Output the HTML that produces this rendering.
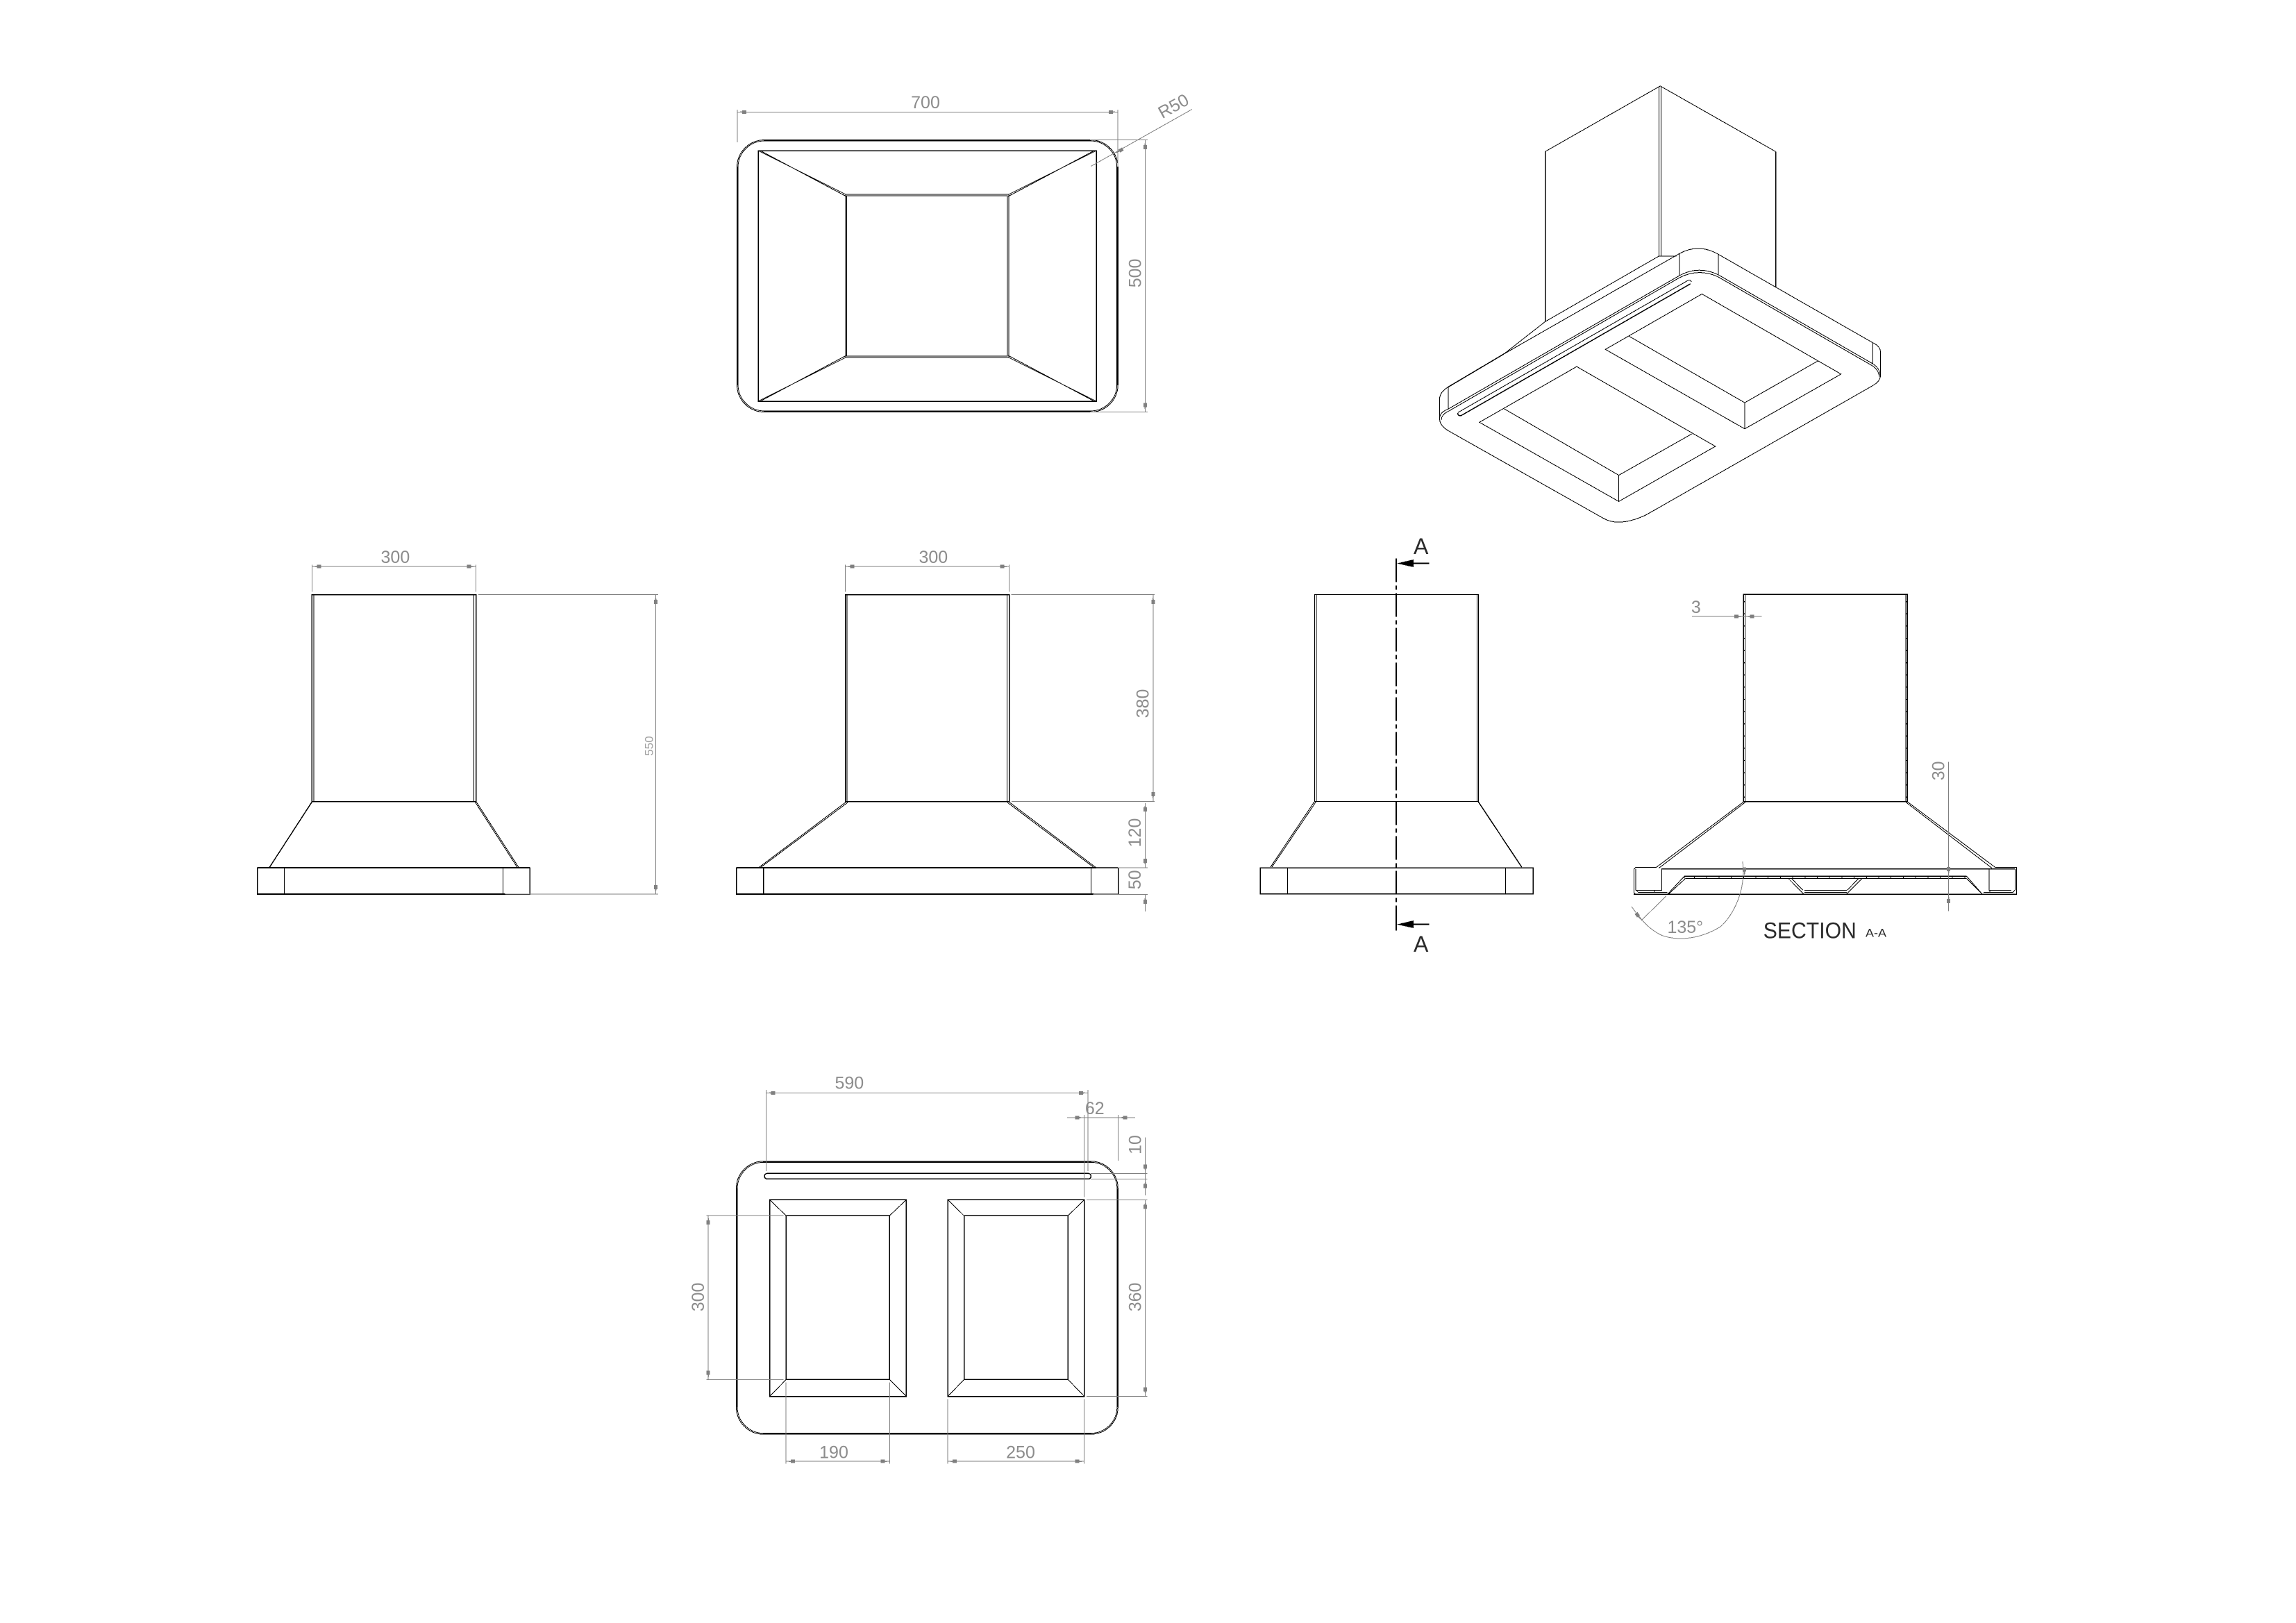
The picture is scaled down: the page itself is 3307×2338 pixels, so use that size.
<!DOCTYPE html>
<html><head><meta charset="utf-8"><title>Hood drawing</title>
<style>
html,body{margin:0;padding:0;background:#fff}
svg{display:block}
.k{fill:none;stroke:#000;stroke-width:1}
.K{fill:none;stroke:#000;stroke-width:2}
.g{fill:none;stroke:#808080;stroke-width:1}
.t{font-family:"Liberation Sans",sans-serif;font-size:25px;fill:#8c8c8c;text-anchor:middle}
.b{font-family:"Liberation Sans",sans-serif;fill:#2a2a2a}
</style></head><body>
<svg xmlns="http://www.w3.org/2000/svg" width="3307" height="2338" viewBox="0 0 3307 2338" shape-rendering="crispEdges">
<rect width="3307" height="2338" fill="#fff"/>
<defs><polygon id="a" points="0,0 7,-1 7,-2.5 13,-2.5 13,2.5 7,2.5 7,1" fill="#808080"/></defs>

<!-- TOP VIEW -->
<rect class="k" x="1061.5" y="201.6" width="548.7" height="392" rx="39.2"/>
<rect class="k" x="1063" y="203" width="545.7" height="389" rx="38"/>
<path class="K" d="M1100 202H1572M1100 593H1572M1062 240V555M1610 240V555"/>
<rect class="K" x="1092" y="217" width="487" height="361" style="stroke-width:1.5"/>
<rect class="k" x="1218" y="279.8" width="235" height="235.2"/>
<rect class="k" x="1219.5" y="282.2" width="231.7" height="230.8"/>
<path class="k" d="M1092 217L1218 280M1095 217L1219 283M1579 217L1453 280M1576 217L1452 283M1092 578L1218 515M1095 578L1219 512M1579 578L1453 515M1576 578L1452 512"/>
<path class="g" d="M1062 158V205M1610 158V240M1062 161.3H1610M1570 201.6H1653M1570 593.5H1653M1649.4 202V594M1571.4 239.5L1716.8 157.5"/>
<use href="#a" transform="translate(1062 161.3)"/>
<use href="#a" transform="translate(1610 161.3) rotate(180)"/>
<use href="#a" transform="translate(1649.4 202) rotate(90)"/>
<use href="#a" transform="translate(1649.4 593.5) rotate(-90)"/>
<use href="#a" transform="translate(1606 221) rotate(-29)"/>
<text class="t" x="1333" y="156">700</text>
<text class="t" transform="translate(1635 393.4) rotate(-90)" y="8.6">500</text>
<text class="t" transform="translate(1690 152.7) rotate(-29)" y="8.6">R50</text>

<!-- ISOMETRIC VIEW -->
<g class="iso">
<path class="k" d="M2389.5 124V369M2392.7 124V369M2225.5 218.4L2391.3 123.9L2557.5 218.4"/>
<path class="K" d="M2225.5 218.4V463.4M2557.5 218.4V413.1" style="stroke-width:1.5"/>
<path class="k" d="M2389.5 368.9H2414.3M2389.5 368.9L2225.5 463.4L2166.3 509.8M2418.8 365.4L2166.3 509.8"/>
<path class="K" d="M2085.9 557.5L2166.3 509.8" style="stroke-width:1.5"/>
<path class="k" d="M2085.9 557.5Q2073.5 565 2073.5 575V603Q2073.5 613 2085.9 620.4L2308.6 746.2Q2331.6 760 2370.6 741.9L2697.6 555.4Q2708.6 549 2708.6 540.2V507.7Q2708.6 499 2697.6 493.8L2474.9 366.3Q2446.4 350 2418.8 365.4"/>
<path class="k" d="M2085.9 557.5V589.2M2418.8 365.4V397.1M2474.9 366.3V394.9M2697.6 493.8V524.1"/>
<path class="k" d="M2074 601Q2074 594 2085.9 589.2L2418.8 397.1Q2446.4 382 2474.9 395.8L2697.6 524.1Q2708 531 2708 541"/>
<path class="k" d="M2076 605Q2076 597 2087 592L2419 400Q2446.4 386 2474 398.5L2697 527Q2706 533 2707 543"/>
<path class="k" d="M2099.7 594.4L2430.3 404.5Q2435 402 2436 406"/>
<path class="K" d="M2100 595Q2099 599 2104.3 598.8L2434.9 408.8" style="stroke-width:1.5"/>
<path class="k" d="M2271 528.1L2130.9 608.3L2331.6 722.4L2470.7 643L2271 528.1M2166.3 588.8L2331.6 684.6L2437.2 624.8M2331.6 684.6V722.4"/>
<path class="k" d="M2451.4 423.5L2312.3 503.3L2513 617.8L2651.7 538.9L2451.4 423.5M2346.3 484.3L2513 580.1L2618.6 519.8M2513 580.1V617.8"/>
</g>

<!-- LEFT ELEVATION -->
<rect class="K" x="449.4" y="856.5" width="236.3" height="298" style="stroke-width:1.5"/>
<path class="k" d="M452 857V1154M682.5 857V1154"/>
<path class="K" d="M449.4 1155L387.8 1250" style="stroke-width:1.5"/>
<path class="k" d="M686 1155L747.4 1250M684 1155L745.4 1250"/>
<rect class="K" x="370.6" y="1250" width="392.7" height="38" style="stroke-width:1.5"/>
<path class="K" d="M371 1250H763M371 1288H727"/>
<path class="k" d="M409.4 1250V1288M724.5 1250V1288"/>
<path class="g" d="M449.4 813.4V852.3M685.7 813.4V852.3M449.4 816.2H685.7M689 856.5H947.8M727.8 1288H947.8M944.5 857V1288"/>
<use href="#a" transform="translate(449.4 816.2)"/>
<use href="#a" transform="translate(685.7 816.2) rotate(180)"/>
<use href="#a" transform="translate(944.5 857) rotate(90)"/>
<use href="#a" transform="translate(944.5 1288) rotate(-90)"/>
<text class="t" x="569.4" y="811">300</text>
<text class="t" style="font-size:17px;fill:#a0a0a0" transform="translate(934.4 1074.5) rotate(-90)" y="6">550</text>

<!-- FRONT ELEVATION -->
<rect class="K" x="1217.6" y="856.5" width="236.1" height="298" style="stroke-width:1.5"/>
<path class="k" d="M1220.1 857V1154M1450.4 857V1154"/>
<path class="k" d="M1219 1155L1092.6 1250M1221 1156L1095 1250M1453 1155L1578.8 1250M1451 1156L1576 1250"/>
<rect class="K" x="1060.6" y="1250" width="550" height="38" style="stroke-width:1.5"/>
<path class="K" d="M1061 1250H1610M1061 1288H1575"/>
<path class="K" d="M1099.8 1250V1288" style="stroke-width:1.5"/>
<path class="k" d="M1571.6 1250V1288"/>
<path class="g" d="M1217.6 813.4V852.3M1453.7 813.4V852.3M1217.6 816.2H1453.7M1456.7 856.5H1663M1457 1154.4H1663M1660.8 857V1154M1578.8 1249.8H1652.8M1574.5 1288.3H1652.8M1649.5 1157V1250M1649.5 1288V1312.8"/>
<use href="#a" transform="translate(1217.6 816.2)"/>
<use href="#a" transform="translate(1453.7 816.2) rotate(180)"/>
<use href="#a" transform="translate(1660.8 857) rotate(90)"/>
<use href="#a" transform="translate(1660.8 1154) rotate(-90)"/>
<use href="#a" transform="translate(1649.5 1156) rotate(90)"/>
<use href="#a" transform="translate(1649.5 1250) rotate(-90)"/>
<use href="#a" transform="translate(1649.5 1289) rotate(90)"/>
<text class="t" x="1344.3" y="811">300</text>
<text class="t" transform="translate(1646 1013.5) rotate(-90)" y="8.6">380</text>
<text class="t" transform="translate(1634.3 1199.5) rotate(-90)" y="8.6">120</text>
<text class="t" transform="translate(1634.3 1267.3) rotate(-90)" y="8.6">50</text>

<!-- SIDE ELEVATION -->
<rect class="k" x="1893.3" y="856.3" width="236" height="298"/>
<path class="k" d="M1896 857V1154M2127.7 857V1154"/>
<path class="k" d="M1893 1155L1830 1249M1895.5 1155L1832 1249"/>
<path class="K" d="M2129.3 1155L2191.7 1249" style="stroke-width:1.5"/>
<rect class="K" x="1815.3" y="1250" width="393" height="37.5" style="stroke-width:1.5"/>
<path class="K" d="M1815 1250H2208M1815 1287.5H2208" style="stroke-width:1.5"/>
<path class="K" d="M1854.3 1250V1287.5M2168.3 1250V1287.5" style="stroke-width:1"/>
<path d="M2011 804.5V1340.4" fill="none" stroke="#000" stroke-width="2" stroke-dasharray="34 5 6 5"/>
<path class="K" d="M2011 804.5V826M2011 1320V1340.4"/>
<polygon points="2012,811.6 2036,806 2036,817" fill="#000"/>
<path class="K" d="M2036 811.6H2058.7"/>
<polygon points="2012,1331.7 2036,1326 2036,1337" fill="#000"/>
<path class="K" d="M2036 1331.7H2058.7"/>
<text class="b" x="2046.7" y="798.2" font-size="32" text-anchor="middle">A</text>
<text class="b" x="2046.7" y="1370.8" font-size="32" text-anchor="middle">A</text>

<!-- SECTION -->
<rect class="K" x="2511.2" y="856.2" width="236.1" height="298.3" style="stroke-width:1.5"/>
<path class="k" d="M2513.6 857V1154M2744.9 857V1154"/>
<path d="M2512.5 866V1154M2746 866V1154" fill="none" stroke="#000" stroke-width="2.4" stroke-dasharray="1.4 16.2"/>
<path class="k" d="M2511.5 1155L2385.5 1249.5M2514 1155.5L2389.4 1250.5M2747.3 1155L2873.8 1249.5M2745 1155.5L2869 1250.5"/>
<path class="k" d="M2385.5 1249.3H2356L2353.3 1252V1286L2356 1288.3M2873.8 1249.3H2904.3V1288.3H2860"/>
<path class="K" d="M2353 1288.3H2904M2393 1251.7H2902" style="stroke-width:1.5"/>
<path class="k" d="M2356.2 1252V1282L2360 1285.7H2401.7M2902.3 1252V1282L2899 1285.7H2857M2356.2 1282.3H2393.4M2865 1282.3H2897M2393.4 1252V1283M2865 1252V1283M2383 1282.3V1285.7M2866 1282.3V1285.7"/>
<path class="K" d="M2426 1262.3H2832.7" style="stroke-width:1.5"/>
<path class="k" d="M2427.3 1265.7H2832.7M2426 1262.3V1265.7"/>
<path d="M2440 1264H2832" fill="none" stroke="#000" stroke-width="3.4" stroke-dasharray="1 16.7"/>
<path class="k" d="M2426 1262.3L2401.7 1288.3M2427.3 1265.7L2403.3 1288M2832.7 1262.3L2855 1288M2832.7 1265.7L2852.7 1285.7"/>
<path class="k" d="M2576 1265.7L2598.3 1288.3M2580.7 1265.7L2596.7 1282.3M2681.7 1265.7L2659.3 1288.3M2676.7 1265.7L2660.7 1282.3M2599 1282.3H2660M2599 1285.7H2660"/>
<text class="b" x="2606.8" y="1351.4" font-size="32" text-anchor="middle" textLength="134" lengthAdjust="spacingAndGlyphs">SECTION</text>
<text class="b" x="2702" y="1349.3" font-size="16.7" text-anchor="middle" textLength="30" lengthAdjust="spacingAndGlyphs">A-A</text>
<path class="g" d="M2436.9 888.2H2537.7M2806.7 1097.6V1312.7M2364 1326L2400 1290.7"/>
<path class="g" d="M2510 1241C2516 1290 2490 1325 2478 1335C2450 1352 2420 1356 2395 1348C2375 1340 2360 1320 2350 1306"/>
<use href="#a" transform="translate(2511.2 888.2) rotate(180)"/>
<use href="#a" transform="translate(2513.6 888.2)"/>
<use href="#a" transform="translate(2806.7 1262) rotate(-90)"/>
<use href="#a" transform="translate(2806.7 1288) rotate(90)"/>
<use href="#a" transform="translate(2512.7 1262.7) rotate(-90)"/>
<use href="#a" transform="translate(2364 1326) rotate(-125)"/>
<text class="t" x="2442.8" y="883">3</text>
<text class="t" transform="translate(2792 1110.4) rotate(-90)" y="8.6">30</text>
<text class="t" x="2427.3" y="1344">135°</text>

<!-- BOTTOM VIEW -->
<rect class="k" x="1060.4" y="1672.8" width="549.9" height="393.4" rx="39.2"/>
<rect class="k" x="1062" y="1674.3" width="546.9" height="390.4" rx="38"/>
<path class="K" d="M1099 1673.5H1572M1099 2065.5H1572M1061 1712V2027M1610 1712V2027" style="stroke-width:1.5"/>
<rect class="K" x="1101" y="1690.4" width="470.5" height="8" rx="4" style="stroke-width:1.5"/>
<rect class="K" x="1108.6" y="1728.3" width="196.8" height="283.2" style="stroke-width:1.5"/>
<rect class="K" x="1132.2" y="1751.2" width="149.1" height="236.2" style="stroke-width:1.5"/>
<path class="k" d="M1108.6 1728.3L1132.2 1751.2M1305.4 1728.3L1281.3 1751.2M1108.6 2011.5L1132.2 1987.4M1305.4 2011.5L1281.3 1987.4"/>
<rect class="K" x="1365.2" y="1728.3" width="196.5" height="283.2" style="stroke-width:1.5"/>
<rect class="K" x="1388.5" y="1751.2" width="149.9" height="236.2" style="stroke-width:1.5"/>
<path class="k" d="M1365.2 1728.3L1388.5 1751.2M1561.7 1728.3L1538.4 1751.2M1365.2 2011.5L1388.5 1987.4M1561.7 2011.5L1538.4 1987.4"/>
<path class="g" d="M1103.6 1570V1687M1567 1570V1687M1103.6 1574.4H1567M1537 1610H1634.9M1561.7 1606V1724.5M1610.3 1606V1672M1649.6 1638.4V1722.2M1571 1690.4H1652.7M1571 1698.4H1652.7M1649.6 1728.3V2011.5M1564.8 1728.3H1652.7M1564.8 2011.5H1652.7M1020.2 1751.2V1987.4M1017.5 1751.2H1128.6M1017.5 1987.4H1128.6M1132.2 1991.6V2108.3M1281.3 1991.6V2108.3M1132.2 2105.2H1281.3M1365.2 2015.3V2108.3M1561.7 2015.3V2108.3M1365.2 2105.2H1561.7"/>
<use href="#a" transform="translate(1103.6 1574.4)"/>
<use href="#a" transform="translate(1567 1574.4) rotate(180)"/>
<use href="#a" transform="translate(1561.7 1610) rotate(180)"/>
<use href="#a" transform="translate(1610.3 1610)"/>
<use href="#a" transform="translate(1649.6 1690.4) rotate(-90)"/>
<use href="#a" transform="translate(1649.6 1698.4) rotate(90)"/>
<use href="#a" transform="translate(1649.6 1728.3) rotate(90)"/>
<use href="#a" transform="translate(1649.6 2011.5) rotate(-90)"/>
<use href="#a" transform="translate(1020.2 1751.2) rotate(90)"/>
<use href="#a" transform="translate(1020.2 1987.4) rotate(-90)"/>
<use href="#a" transform="translate(1132.2 2105.2)"/>
<use href="#a" transform="translate(1281.3 2105.2) rotate(180)"/>
<use href="#a" transform="translate(1365.2 2105.2)"/>
<use href="#a" transform="translate(1561.7 2105.2) rotate(180)"/>
<text class="t" x="1223.3" y="1568.6">590</text>
<text class="t" x="1576.8" y="1605.2">62</text>
<text class="t" transform="translate(1634.9 1649) rotate(-90)" y="8.6">10</text>
<text class="t" transform="translate(1634.9 1868.4) rotate(-90)" y="8.6">360</text>
<text class="t" transform="translate(1005.4 1868.4) rotate(-90)" y="8.6">300</text>
<text class="t" x="1201" y="2100.5">190</text>
<text class="t" x="1470" y="2100.5">250</text>
</svg>
</body></html>
